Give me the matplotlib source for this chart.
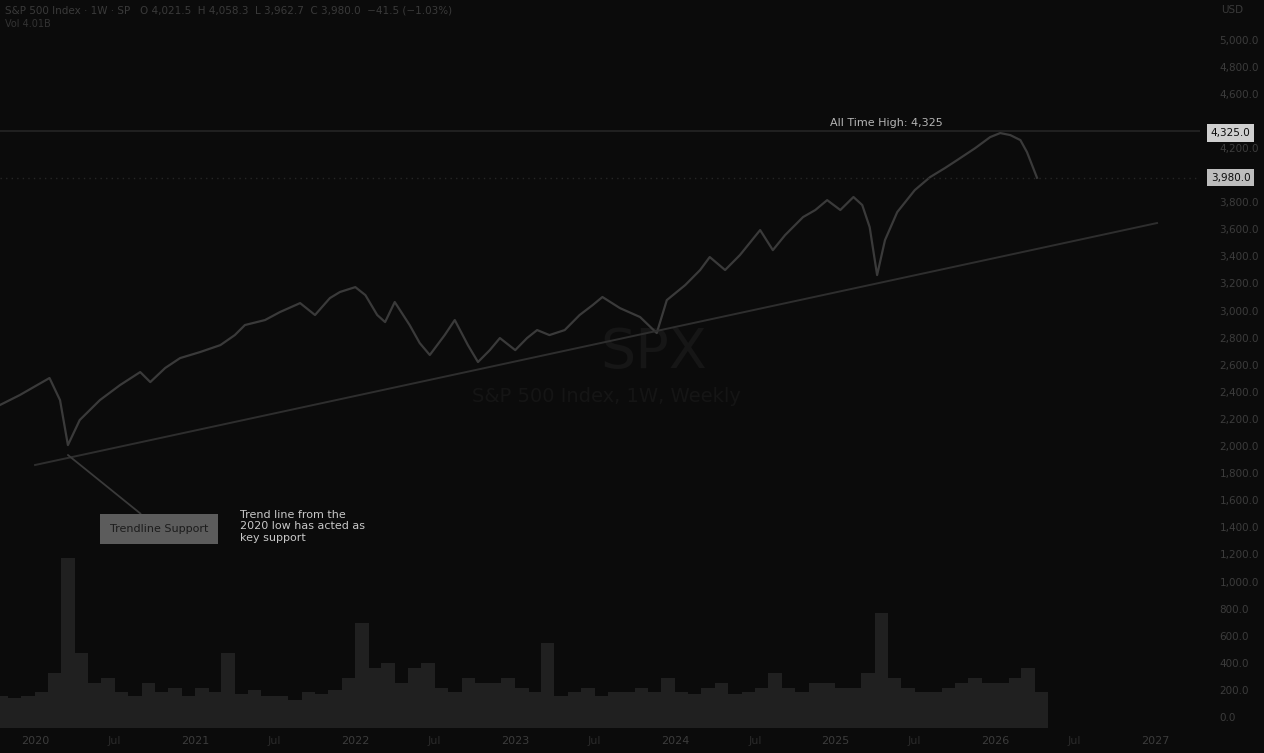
import numpy as np
import pandas as pd
import matplotlib
matplotlib.use("Agg")
import matplotlib.pyplot as plt
import matplotlib.dates as mdates
import matplotlib.transforms as mtransforms

# weekly-ish closes
dates = ["2019-10-13", "2019-11-27", "2020-02-03", "2020-02-27", "2020-03-16", "2020-04-12",
         "2020-05-28", "2020-07-13", "2020-08-28", "2020-09-20", "2020-10-24", "2020-11-27",
         "2021-01-12", "2021-02-27", "2021-04-01", "2021-04-24", "2021-06-09", "2021-07-13",
         "2021-08-28", "2021-10-01", "2021-11-04", "2021-11-27", "2022-01-01", "2022-01-24",
         "2022-02-20", "2022-03-10", "2022-04-01", "2022-05-05", "2022-05-28", "2022-06-20",
         "2022-07-24", "2022-08-16", "2022-09-15", "2022-10-08", "2022-11-04", "2022-11-27",
         "2023-01-01", "2023-01-28", "2023-02-20", "2023-03-20", "2023-04-24", "2023-05-28",
         "2023-06-27", "2023-07-19", "2023-08-28", "2023-10-13", "2023-11-20", "2023-12-13",
         "2024-01-24", "2024-02-27", "2024-03-20", "2024-04-24", "2024-05-28", "2024-07-13",
         "2024-08-11", "2024-09-08", "2024-10-19", "2024-11-16", "2024-12-13", "2025-01-12",
         "2025-02-11", "2025-03-03", "2025-03-20", "2025-04-06", "2025-04-24", "2025-05-22",
         "2025-07-01", "2025-08-05", "2025-09-08", "2025-10-06", "2025-11-16", "2025-12-20",
         "2026-01-12", "2026-02-04", "2026-02-27", "2026-03-14", "2026-04-06"]
closes = [2303, 2376, 2502, 2339, 2007, 2192,
          2339, 2450, 2546, 2472, 2576, 2649,
          2694, 2745, 2819, 2893, 2930, 2989,
          3055, 2967, 3092, 3137, 3173, 3114,
          2967, 2915, 3063, 2893, 2760, 2672,
          2819, 2930, 2745, 2620, 2708, 2797,
          2708, 2797, 2856, 2819, 2856, 2967,
          3041, 3100, 3018, 2952, 2834, 3077,
          3188, 3299, 3395, 3299, 3410, 3594,
          3446, 3557, 3690, 3742, 3815, 3742,
          3838, 3779, 3616, 3262, 3520, 3727,
          3889, 3985, 4052, 4111, 4199, 4280,
          4310, 4295, 4258, 4170, 3980]

# monthly volume (billions)
vol_months = pd.date_range("2019-10-01", "2026-04-01", freq="MS")
volume = [3.2, 3.0, 3.2,
          3.6, 5.5, 17.0, 7.5, 4.5, 5.0, 3.6, 3.2, 4.5, 3.6, 4.0, 3.2,
          4.0, 3.6, 7.5, 3.4, 3.8, 3.2, 3.2, 2.8, 3.6, 3.4, 3.8, 5.0,
          10.5, 6.0, 6.5, 4.5, 6.0, 6.5, 4.0, 3.6, 5.0, 4.5, 4.5, 5.0,
          4.0, 3.6, 8.5, 3.2, 3.6, 4.0, 3.2, 3.6, 3.6, 4.0, 3.6, 5.0,
          3.6, 3.4, 4.0, 4.5, 3.4, 3.6, 4.0, 5.5, 4.0, 3.6, 4.5, 4.5,
          4.0, 4.0, 5.5, 11.5, 5.0, 4.0, 3.6, 3.6, 4.0, 4.5, 5.0, 4.5,
          4.5, 5.0, 6.0, 3.6]

ath_level = 4325
trend_dates = ["2020-01-01", "2027-01-05"]
trend_vals = [1860, 3646]
price_ticks = list(range(0, 5001, 200))

bg = "#0b0b0b"
dim = "#3c3c3c"

fig = plt.figure(figsize=(12.64, 7.53), dpi=100, facecolor=bg)
ax = fig.add_axes([0, 25 / 753, 1200 / 1264, 728 / 753], facecolor=bg)
axv = ax.twinx()
axv.set_zorder(0)
ax.set_zorder(1)
ax.patch.set_visible(False)
axv.patch.set_facecolor(bg)

d = pd.to_datetime(dates)

# volume pane
axv.bar(vol_months + pd.Timedelta(days=15), volume, width=31, color="#202020", edgecolor="none")
axv.set_ylim(0, 72.8)
axv.set_yticks([])
for s in axv.spines.values():
    s.set_visible(False)

# price
ax.plot(d, closes, color="#3a3a3a", lw=1.6, solid_joinstyle="round")
ax.plot(pd.to_datetime(trend_dates), trend_vals, color="#2e2e2e", lw=1.4)
ax.axhline(ath_level, color="#252525", lw=1.2)
ax.axhline(closes[-1], color="#262626", lw=1.0, ls=(0, (1, 3)))

ax.set_xlim(pd.Timestamp("2019-10-13"), pd.Timestamp("2027-04-13"))
ax.set_ylim(-81, 5292)

# tick labels hidden behind the price boxes are left out
ax.yaxis.tick_right()
ax.set_yticks(price_ticks)
ax.set_yticklabels([f"{v:,}.0" if min(abs(v - ath_level), abs(v - closes[-1])) > 110 else ""
                    for v in price_ticks])
ax.tick_params(axis="y", length=0, pad=14, labelsize=7.5, labelcolor=dim)

ax.xaxis.set_major_locator(mdates.YearLocator())
ax.xaxis.set_major_formatter(mdates.DateFormatter("%Y"))
ax.xaxis.set_minor_locator(mdates.MonthLocator(bymonth=7))
ax.xaxis.set_minor_formatter(mdates.DateFormatter("%b"))
ax.tick_params(axis="x", which="both", length=0, pad=6, labelsize=8, labelcolor=dim)
ax.tick_params(axis="x", which="minor", labelcolor="#2a2a2a")
for s in ax.spines.values():
    s.set_visible(False)

# price labels on the right scale
tr = mtransforms.blended_transform_factory(ax.transAxes, ax.transData)
ax.text(1.009, ath_level - 15, f"{ath_level:,}.0", transform=tr, fontsize=7.5, color=bg,
        va="center", ha="left", clip_on=False,
        bbox=dict(boxstyle="square,pad=0.35", fc="#cfcfcf", ec="none"))
ax.text(1.009, closes[-1], f"{closes[-1]:,}.0", transform=tr, fontsize=7.5, color=bg,
        va="center", ha="left", clip_on=False,
        bbox=dict(boxstyle="square,pad=0.35", fc="#bdbdbd", ec="none"))

# annotations
ax.text(pd.Timestamp("2024-12-20"), ath_level + 25, f"All Time High: {ath_level:,}",
        fontsize=8, color="#b5b5b5", va="bottom", ha="left")

ax.annotate("Trendline Support", xy=(pd.Timestamp("2020-03-16"), 1934),
            xytext=(pd.Timestamp("2020-06-20"), 1390), fontsize=8, color="#1c1c1c",
            va="center", ha="left",
            bbox=dict(boxstyle="square,pad=0.9", fc="#5c5c5c", ec="none"),
            arrowprops=dict(arrowstyle="-", color="#3a3a3a", lw=1.3, shrinkA=0, shrinkB=0))
ax.text(pd.Timestamp("2021-04-13"), 1530,
        "Trend line from the\n2020 low has acted as\nkey support",
        fontsize=8, color="#c8c8c8", va="top", ha="left", linespacing=1.2)

# watermark
ax.text(0.545, 0.515, "SPX", transform=ax.transAxes, fontsize=40, color="#161616",
        ha="center", va="center", zorder=0)
ax.text(0.505, 0.455, "S&P 500 Index, 1W, Weekly", transform=ax.transAxes, fontsize=14,
        color="#151515", ha="center", va="center", zorder=0)

# header
fig.text(0.004, 0.993,
         "S&P 500 Index · 1W · SP   O 4,021.5  H 4,058.3  L 3,962.7  C 3,980.0  −41.5 (−1.03%)",
         fontsize=7.5, color="#3a3a3a", va="top", ha="left")
fig.text(0.004, 0.975, "Vol 4.01B", fontsize=7, color="#333333", va="top", ha="left")
fig.text(0.975, 0.993, "USD", fontsize=7.5, color="#3a3a3a", va="top", ha="center")

fig.savefig("out.png", dpi=100, facecolor=bg)
